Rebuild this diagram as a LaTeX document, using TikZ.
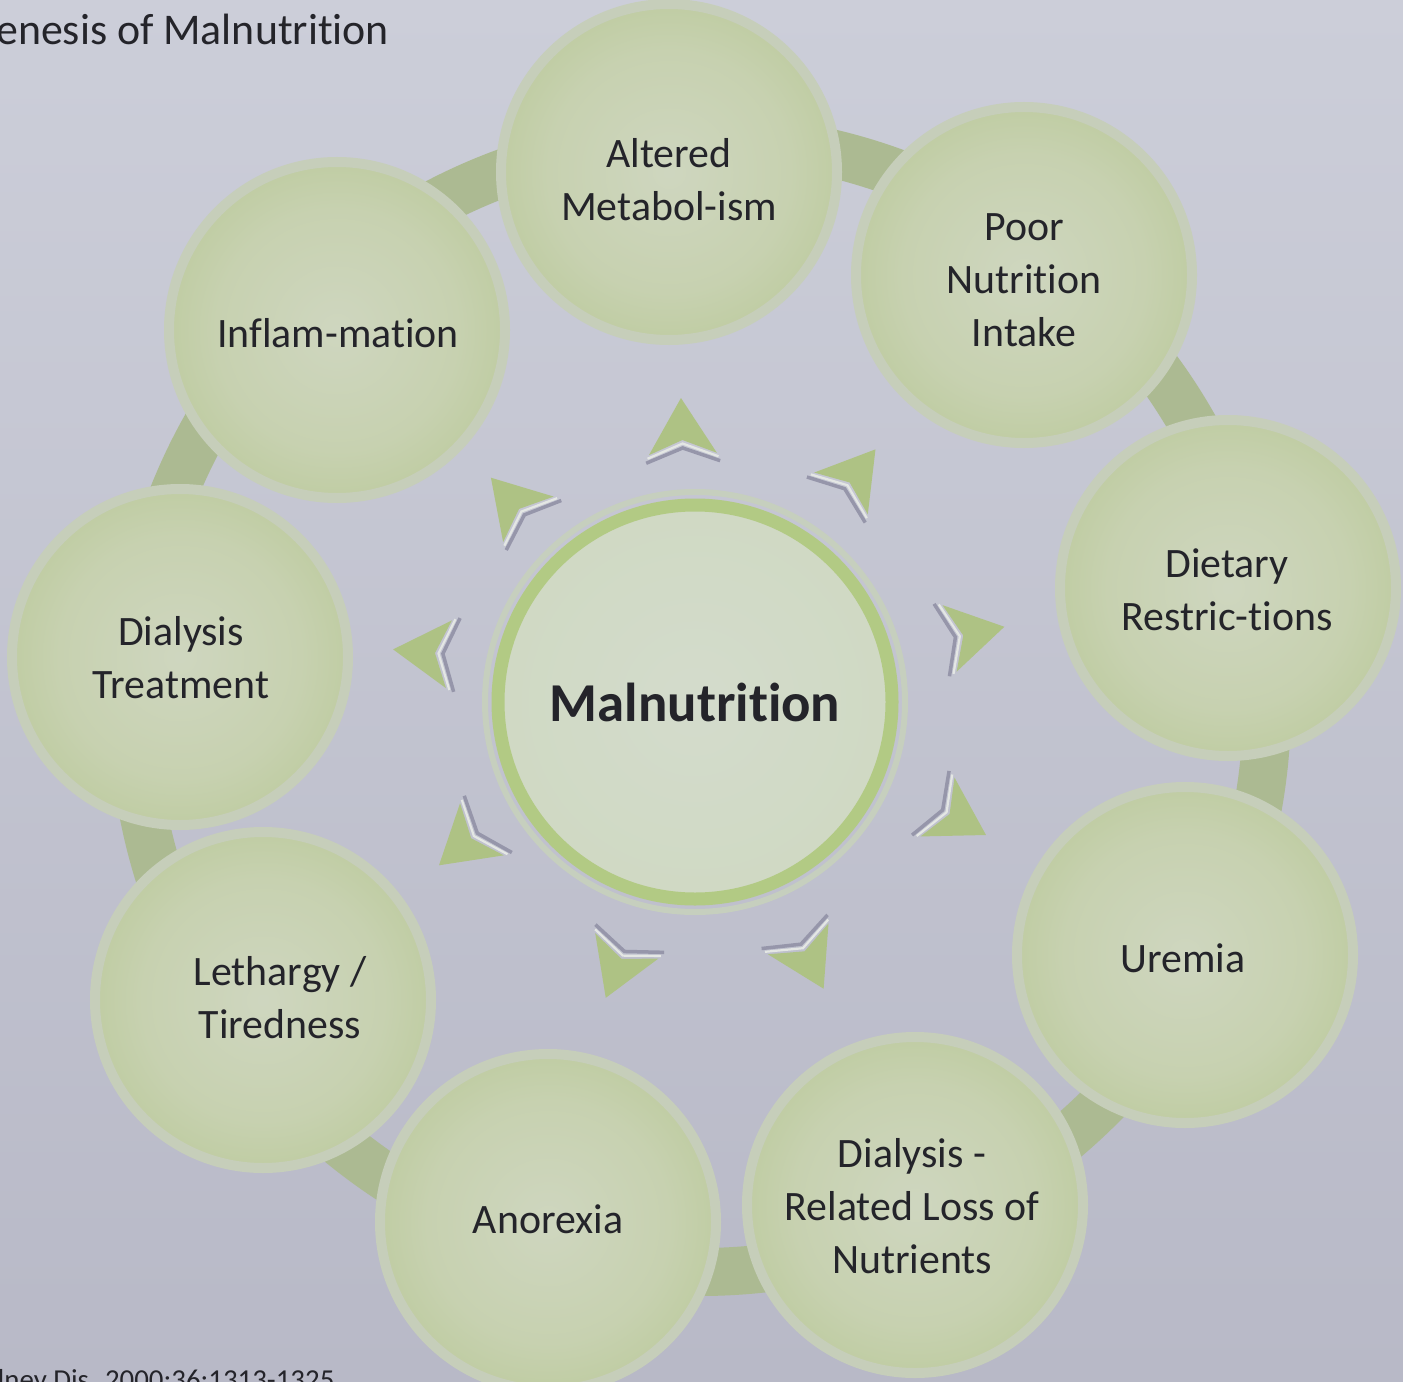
\documentclass[tikz,border=0pt]{standalone}
\usepackage{fontspec}
\setmainfont{Carlito}[Ligatures={NoCommon}]
\usetikzlibrary{calc}

\definecolor{bgtop}{RGB}{204,206,217}
\definecolor{bgbot}{RGB}{184,185,199}
\definecolor{band}{RGB}{172,186,146}
\definecolor{rim}{RGB}{198,206,186}
\definecolor{ink}{RGB}{36,36,42}
\definecolor{arrowgreen}{RGB}{174,194,132}
\definecolor{shadowgrey}{RGB}{150,150,170}
\definecolor{arrowlight}{RGB}{228,231,228}
\definecolor{coreline}{RGB}{178,202,132}
\definecolor{corehalo}{RGB}{198,207,190}

% soft green fill of the ring bubbles
\pgfdeclareradialshading{bubble}{\pgfpoint{0bp}{0bp}}{%
  rgb(0bp)=(0.81,0.84,0.75);
  rgb(18bp)=(0.78,0.82,0.69);
  rgb(38bp)=(0.70,0.77,0.55);
  rgb(50bp)=(0.65,0.74,0.47)}
% pale mint fill of the central bubble
\pgfdeclareradialshading{core}{\pgfpoint{0bp}{0bp}}{%
  rgb(0bp)=(0.83,0.86,0.80);
  rgb(30bp)=(0.81,0.85,0.76);
  rgb(50bp)=(0.77,0.83,0.68)}

\tikzset{
  bub/.style={circle, minimum size=336bp, inner sep=0pt, shade, shading=bubble,
              draw=rim, line width=10bp},
  corebub/.style={circle, minimum size=394bp, inner sep=0pt, shade, shading=core,
              draw=coreline, line width=13bp},
  lbl/.style={align=center, text=ink, inner sep=0pt,
              font=\fontsize{42}{53}\selectfont},
  corelbl/.style={text=ink, inner sep=0pt,
              font=\fontsize{55}{66}\selectfont\bfseries},
  ptr/.pic={
    \draw[shadowgrey, line width=3.5bp] (-34,37) -- (-20,0) -- (-34,-37);
    \draw[arrowlight, line width=2.2bp] (-29.5,35.5) -- (-15.5,0) -- (-29.5,-35.5);
    \fill[arrowgreen] (30,0) -- (-26,34) -- (-12,0) -- (-26,-34) -- cycle;
  }
}

\begin{document}
\begin{tikzpicture}[x=1bp,y=-1bp]
\useasboundingbox (0,0) rectangle (1403,1382);
\shade[top color=bgtop, bottom color=bgbot] (0,0) rectangle (1403,1382);

% connecting ring behind the bubbles
\coordinate (hub) at (700,705);
\draw[band, line width=48bp] (hub) circle[radius=567];

% ring bubbles
\node[bub] (alt)   at (669,172)  {};
\node[bub] (poor)  at (1024,275) {};
\node[bub] (diet)  at (1228,588) {};
\node[bub] (urem)  at (1185,955) {};
\node[bub] (loss)  at (915,1205) {};
\node[bub] (anor)  at (548,1222) {};
\node[bub] (leth)  at (263,1000) {};
\node[bub] (dtreat) at (180,657) {};
\node[bub] (infl)  at (337,330)  {};

% central bubble with halo
\node[circle, minimum size=420bp, inner sep=0pt, draw=corehalo, line width=6bp] (halo) at (695,702) {};
\node[corebub] (mal) at (695,702) {};
\node[corelbl] (maltext) at (mal.center) {Malnutrition};

% arrowheads pointing from the centre to each bubble
\pic[rotate=92]   at (682,428) {ptr};
\pic[rotate=52]   at (857,473) {ptr};
\pic[rotate=12]   at (975,633) {ptr};
\pic[rotate=-30]  at (960,820) {ptr};
\pic[rotate=-63]  at (810,962) {ptr};
\pic[rotate=-112] at (617,970) {ptr};
\pic[rotate=-140] at (462,846) {ptr};
\pic[rotate=175]  at (423,652) {ptr};
\pic[rotate=132]  at (511,500) {ptr};

% bubble labels
\node[lbl] (altl)   at (669,180)  {Altered\\Metabol-ism};
\node[lbl] (poorl)  at (1024,280) {Poor\\Nutrition\\Intake};
\node[lbl] (dietl)  at (1227,590) {Dietary\\Restric-tions};
\node[lbl] (ureml)  at (1183,958) {Uremia};
\node[lbl] (lossl)  at (912,1206) {Dialysis -\\Related Loss of\\Nutrients};
\node[lbl] (anorl)  at (548,1219) {Anorexia};
\node[lbl] (lethl)  at (280,998)  {Lethargy /\\Tiredness};
\node[lbl] (dtreatl) at (181,658) {Dialysis\\Treatment};
\node[lbl] (infll)  at (338,333)  {Inflam-mation};

% heading and source line
\node[anchor=base west, inner sep=0pt, text=ink, font=\fontsize{44}{52}\selectfont]
  (title) at (-4,45) {enesis of Malnutrition};
\node[anchor=base west, inner sep=0pt, text=ink, font=\fontsize{29}{36}\selectfont]
  (cite) at (-11,1389) {dney Dis. 2000;36:1313-1325};
\end{tikzpicture}
\end{document}
